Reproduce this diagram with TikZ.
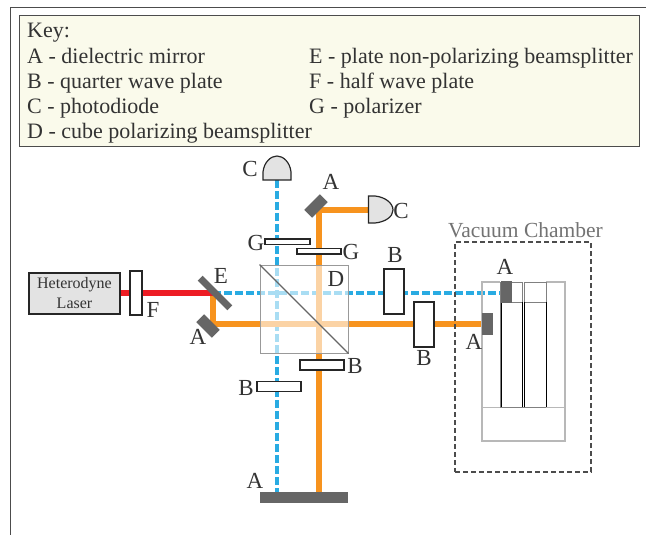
\documentclass[tikz,border=0pt]{standalone}
\usepackage{fontspec}
\setmainfont{Liberation Serif}
\usetikzlibrary{positioning,calc}
\definecolor{beamblue}{HTML}{29ABE2}
\definecolor{beamorange}{HTML}{F7931E}
\definecolor{beamred}{HTML}{ED1C24}
\definecolor{mirrorgray}{HTML}{666666}
\definecolor{keyfill}{HTML}{FAFAEB}
\definecolor{labelgray}{HTML}{333333}
\tikzset{
	keytext/.style={anchor=base west,inner sep=0pt,text=labelgray,font=\fontsize{22}{24}\selectfont},
	lbl/.style={inner sep=0pt,text=labelgray,font=\fontsize{23}{24}\selectfont},
	plate/.style={draw=black!85,fill=white,line width=1.5pt,inner sep=0pt,minimum width=#1},
	mirror/.style={fill=mirrorgray,inner sep=0pt},
	bluebeam/.style={beamblue,line width=4pt,dash pattern=on 8pt off 3pt},
	orangebeam/.style={beamorange,line width=6pt},
	redbeam/.style={beamred,line width=6pt},
	detector/.style={draw=black!85,fill=black!11,line width=1.2pt},
	chamberline/.style={draw=black!28,line width=1pt}
}
\begin{document}
\begin{tikzpicture}[x=1pt,y=-1pt]
	\useasboundingbox (0,0) rectangle (646,535);
	
	\draw[black!70,line width=1.2pt] (10.5,535) -- (10.5,7.5) -- (646,7.5);
	
	\node[draw=black!70,fill=keyfill,line width=1pt,minimum width=620pt,minimum height=130pt,inner sep=0pt] (key) at (329,81) {};
	\node[keytext] (keytitle) at (27,38) {Key:};
	\node[keytext] (keya) at (27,63.5) {A - dielectric mirror};
	\node[keytext] (keyb) at (27,88.5) {B - quarter wave plate};
	\node[keytext] (keyc) at (27,113.5) {C - photodiode};
	\node[keytext] (keyd) at (27,138.5) {D - cube polarizing beamsplitter};
	\node[keytext] (keye) at (309,63.5) {E - plate non-polarizing beamsplitter};
	\node[keytext] (keyf) at (309,88.5) {F - half wave plate};
	\node[keytext] (keyg) at (309,113.5) {G - polarizer};
	
	% beam end points
	\coordinate (split) at (213,293);
	\coordinate (low) at (213,324);
	\coordinate (pdtop) at (277,180);
	\coordinate (pdright) at (368,210);
	\coordinate (turn) at (319,210);
	\coordinate (endblue) at (277,492);
	\coordinate (endorange) at (319,492);
	\coordinate (hitblue) at (501,293);
	\coordinate (hitorange) at (482,324);
	\coordinate (laserout) at (120,293);
	
	\draw[bluebeam] (split) -- (hitblue);
	\draw[bluebeam] (pdtop) -- (endblue);
	\draw[orangebeam,line join=miter] (split) -- (low) -- (hitorange);
	\draw[orangebeam,line join=miter] (pdright) -- (turn) -- (endorange);
	\draw[redbeam] (laserout) -- (split);
	
	% cube
	\node[draw=black!40,fill=white,fill opacity=0.6,line width=1pt,minimum size=88pt,inner sep=0pt] (cube) at (304,309) {};
	\draw[black!60,line width=1.2pt] (cube.north west) -- (cube.south east);
	
	% mirrors
	\node[mirror,minimum width=42pt,minimum height=7pt,rotate=-45] (mirrorE) at (215,293) {};
	\node[mirror,minimum width=22pt,minimum height=11pt,rotate=-45] (mirrorlow) at (208,326) {};
	\node[mirror,minimum width=22pt,minimum height=11pt,rotate=45] (mirrortop) at (316,206) {};
	\node[mirror,minimum width=88pt,minimum height=11pt] (mirrorend) at (304,497.5) {};
	
	% plates
	\node[plate=12pt,minimum height=44pt] (plateF) at (136,293) {};
	\node[plate=45pt,minimum height=5.5pt] (plateGa) at (287.5,241.5) {};
	\node[plate=44pt,minimum height=5.5pt] (plateGb) at (319,251) {};
	\node[plate=20pt,minimum height=45pt] (plateBa) at (394,291.5) {};
	\node[plate=20pt,minimum height=45pt] (plateBb) at (424,324.5) {};
	\node[plate=44pt,minimum height=10pt] (plateBc) at (322,365) {};
	\node[plate=44pt,minimum height=10pt] (plateBd) at (279,386.5) {};
	
	% photodiodes
	\draw[detector] (263,180) -- (263,172) .. controls (264,162) and (271,156) .. (277,156) .. controls (283,156) and (290,162) .. (291,172) -- (291,180) -- cycle;
	\draw[detector] (368.5,196) -- (375,196) .. controls (385,197) and (393,203) .. (393,210) .. controls (393,217) and (385,222) .. (375,223) -- (368.5,223) -- cycle;
	
	% laser
	\node[draw=black!85,fill=black!11,line width=1.5pt,minimum width=91pt,minimum height=41pt,inner sep=0pt,align=center,text=labelgray,font=\fontsize{16}{20}\selectfont] (laser) at (74.5,293.5) {Heterodyne\\Laser};
	
	% chamber
	\node[draw=black!70,line width=1.5pt,dash pattern=on 5pt off 3pt,minimum width=136pt,minimum height=230pt,inner sep=0pt] (chamber) at (523,357) {};
	\node[inner sep=0pt,text=black!55,font=\fontsize{21.5}{24}\selectfont,above=3pt of chamber.north,xshift=2.5pt] (chambername) {Vacuum Chamber};
	\draw[chamberline,line width=1.5pt] (482,282) rectangle (565,441);
	\draw[chamberline] (482,407) -- (565,407);
	\fill[white] (500,281) rectangle (546,407);
	\draw[black!50,line width=1pt] (500,407) -- (500,282) -- (522,282) -- (522,302) -- (500,302);
	\draw[black!50,line width=1pt] (524,302) -- (524,282) -- (546,282) -- (546,302) -- cycle;
	\draw[black,line width=1pt] (501.5,302) -- (501.5,407) (522,302) -- (522,407) (524,302) -- (524,407) (546,302) -- (546,407);
	\draw[black!50,line width=1pt] (500,407) -- (546,407);
	\node[mirror,minimum width=11pt,minimum height=22pt] (mirrorin) at (506.5,292) {};
	\node[mirror,minimum width=11pt,minimum height=22pt] (mirrorout) at (487.5,324) {};
	
	% labels
	\node[lbl] (lc) at (250,169) {C};
	\node[lbl] (la) at (331,182) {A};
	\node[lbl] (lcr) at (401,211) {C};
	\node[lbl] (lga) at (256,243) {G};
	\node[lbl] (lgb) at (351,252) {G};
	\node[lbl] (lb) at (395,255) {B};
	\node[lbl] (ld) at (336,279) {D};
	\node[lbl] (le) at (221,276) {E};
	\node[lbl] (lf) at (153,310) {F};
	\node[lbl] (lal) at (198,337) {A};
	\node[lbl] (lbb) at (424,358) {B};
	\node[lbl] (lbr) at (355,366) {B};
	\node[lbl] (lbd) at (246,388) {B};
	\node[lbl] (lab) at (255,481) {A};
	\node[lbl] (laa) at (505,267) {A};
	\node[lbl] (lac) at (474,342) {A};
	
\end{tikzpicture}
\end{document}
